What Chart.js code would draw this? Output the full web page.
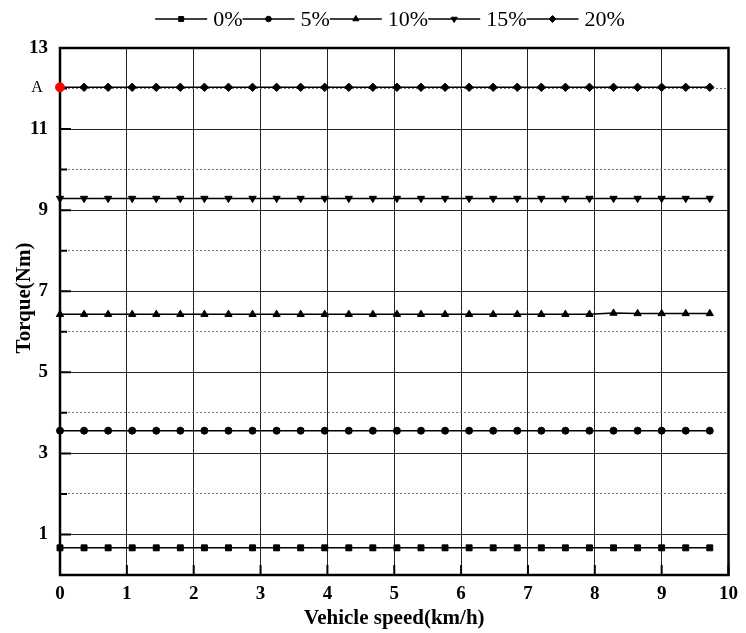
<!DOCTYPE html>
<html>
<head>
<meta charset="utf-8">
<script src="https://cdn.jsdelivr.net/npm/chart.js@4.4.1/dist/chart.umd.min.js"></script>
<style>
  body { margin: 0; background: #fff; }
  #wrap { width: 746px; height: 633px; }
</style>
</head>
<body>
<div id="wrap"><canvas id="myChart" width="746" height="633"></canvas></div>
<script>
// vehicle speed (km/h) of every sample
const speed = [0, 0.36, 0.72, 1.08, 1.44, 1.80, 2.16, 2.52, 2.88, 3.24, 3.60, 3.96, 4.32, 4.68,
               5.04, 5.40, 5.76, 6.12, 6.48, 6.84, 7.20, 7.56, 7.92, 8.28, 8.64, 9.00, 9.36, 9.72];

// torque (Nm) per slope
const torque0  = [0.67, 0.67, 0.67, 0.67, 0.67, 0.67, 0.67, 0.67, 0.67, 0.67, 0.67, 0.67, 0.67, 0.67,
                  0.67, 0.67, 0.67, 0.67, 0.67, 0.67, 0.67, 0.67, 0.67, 0.67, 0.67, 0.67, 0.67, 0.67];
const torque5  = [3.56, 3.56, 3.56, 3.56, 3.56, 3.56, 3.56, 3.56, 3.56, 3.56, 3.56, 3.56, 3.56, 3.56,
                  3.56, 3.56, 3.56, 3.56, 3.56, 3.56, 3.56, 3.56, 3.56, 3.56, 3.56, 3.56, 3.56, 3.56];
const torque10 = [6.43, 6.43, 6.43, 6.43, 6.43, 6.43, 6.43, 6.43, 6.43, 6.43, 6.43, 6.43, 6.43, 6.43,
                  6.43, 6.43, 6.43, 6.43, 6.43, 6.43, 6.43, 6.43, 6.43, 6.46, 6.45, 6.45, 6.45, 6.45];
const torque15 = [9.29, 9.29, 9.29, 9.29, 9.29, 9.29, 9.29, 9.29, 9.29, 9.29, 9.29, 9.29, 9.29, 9.29,
                  9.29, 9.29, 9.29, 9.29, 9.29, 9.29, 9.29, 9.29, 9.29, 9.29, 9.29, 9.29, 9.29, 9.29];
const torque20 = [12.03, 12.03, 12.03, 12.03, 12.03, 12.03, 12.03, 12.03, 12.03, 12.03, 12.03, 12.03, 12.03, 12.03,
                  12.03, 12.03, 12.03, 12.03, 12.03, 12.03, 12.03, 12.03, 12.03, 12.03, 12.03, 12.03, 12.03, 12.03];

const seriesNames = ['0%', '5%', '10%', '15%', '20%'];
const seriesValues = [torque0, torque5, torque10, torque15, torque20];
const markerStyles = ['rect', 'circle', 'triangle', 'triangle', 'rectRot'];
const markerRotations = [0, 0, 0, 180, 0];
const markerRadius = [4.2, 3.5, 4.2, 4.2, 4.2];

// axis ticks
const xTicks = [0, 1, 2, 3, 4, 5, 6, 7, 8, 9, 10];
const yTicks = [1, 3, 5, 7, 9, 11, 13];
const yMinorTicks = [2, 4, 6, 8, 10, 12];

// marked operating point
const pointA = { series: 4, index: 0, label: 'A' };

const serif = '"Liberation Serif", "Times New Roman", serif';

const datasets = seriesNames.map((name, s) => ({
  label: name,
  data: speed.map((v, i) => ({ x: v, y: seriesValues[s][i] })),
  borderColor: '#000',
  borderWidth: 1.5,
  pointStyle: c => (s === pointA.series && c.dataIndex === pointA.index) ? 'circle' : markerStyles[s],
  pointRotation: markerRotations[s],
  pointRadius: c => (s === pointA.series && c.dataIndex === pointA.index) ? 4.5 : markerRadius[s],
  pointBackgroundColor: c => (s === pointA.series && c.dataIndex === pointA.index) ? '#ff0000' : '#000',
  pointBorderColor: c => (s === pointA.series && c.dataIndex === pointA.index) ? '#ff0000' : '#000',
  pointBorderWidth: 1,
  clip: false
}));

const whiteBg = {
  id: 'whiteBg',
  beforeDraw(chart) {
    const ctx = chart.ctx;
    ctx.save();
    ctx.fillStyle = '#fff';
    ctx.fillRect(0, 0, chart.width, chart.height);
    ctx.restore();
  }
};

// frame and inward tick marks
const frameTicks = {
  id: 'frameTicks',
  beforeDatasetsDraw(chart) {
    const { ctx, chartArea: a, scales: { x, y } } = chart;
    ctx.save();
    ctx.strokeStyle = '#000';
    ctx.lineWidth = 2;
    ctx.beginPath();
    yTicks.forEach(v => {
      const py = y.getPixelForValue(v);
      ctx.moveTo(a.left, py); ctx.lineTo(a.left + 11, py);
    });
    yMinorTicks.forEach(v => {
      const py = y.getPixelForValue(v);
      ctx.moveTo(a.left, py); ctx.lineTo(a.left + 7, py);
    });
    xTicks.forEach(v => {
      const px = x.getPixelForValue(v);
      ctx.moveTo(px, a.bottom); ctx.lineTo(px, a.bottom - 10);
    });
    ctx.stroke();
    ctx.lineWidth = 2.5;
    ctx.strokeRect(a.left, a.top, a.right - a.left, a.bottom - a.top);
    ctx.restore();
  }
};

// legend with line + marker, y title and the "A" label
const extras = {
  id: 'extras',
  afterDraw(chart) {
    const ctx = chart.ctx;
    ctx.save();
    ctx.fillStyle = '#000';
    ctx.strokeStyle = '#000';

    ctx.font = '22px ' + serif;
    ctx.textBaseline = 'middle';
    const lineLen = 52, gap = 6, yc = 19;
    let total = 0;
    seriesNames.forEach(n => { total += lineLen + gap + ctx.measureText(n).width; });
    let lx = 390 - total / 2;
    seriesNames.forEach((n, s) => {
      ctx.lineWidth = 1.5;
      ctx.beginPath();
      ctx.moveTo(lx, yc); ctx.lineTo(lx + lineLen, yc);
      ctx.stroke();
      ctx.lineWidth = 1;
      if (Chart.helpers && Chart.helpers.drawPoint) {
        Chart.helpers.drawPoint(ctx, { pointStyle: markerStyles[s], rotation: markerRotations[s], radius: markerRadius[s] - 0.7, borderWidth: 1 }, lx + lineLen / 2, yc);
      }
      ctx.fillText(n, lx + lineLen + gap, yc + 1);
      lx += lineLen + gap + ctx.measureText(n).width;
    });

    ctx.font = 'bold 21px ' + serif;
    ctx.textAlign = 'center';
    ctx.translate(25, 298);
    ctx.rotate(-Math.PI / 2);
    ctx.fillText('Torque(Nm)', 0, 0);
    ctx.setTransform(1, 0, 0, 1, 0, 0);

    const pt = chart.getDatasetMeta(pointA.series).data[pointA.index];
    ctx.font = '16px ' + serif;
    ctx.fillText(pointA.label, pt.x - 23, pt.y);
    ctx.restore();
  }
};

new Chart(document.getElementById('myChart'), {
  type: 'line',
  data: { datasets },
  options: {
    responsive: false,
    animation: false,
    devicePixelRatio: 1,
    layout: { padding: { top: 48, right: 14, bottom: 0, left: 0 } },
    plugins: { legend: { display: false }, tooltip: { enabled: false } },
    scales: {
      x: {
        type: 'linear',
        min: 0, max: 10,
        afterBuildTicks: s => { s.ticks = xTicks.map(v => ({ value: v })); },
        afterFit: s => { s.height = 58; },
        grid: { color: '#222', lineWidth: 1, drawTicks: false },
        border: { display: false },
        ticks: { color: '#000', padding: 8, maxRotation: 0, font: { family: serif, size: 19, weight: 'bold' } },
        title: { display: true, text: 'Vehicle speed(km/h)', color: '#000', padding: { top: 0, bottom: 2 },
                 font: { family: serif, size: 21, weight: 'bold' } }
      },
      y: {
        position: 'left',
        min: 0, max: 13,
        afterBuildTicks: s => { s.ticks = yTicks.map(v => ({ value: v })); },
        afterFit: s => { s.width = 60; },
        grid: { color: '#222', lineWidth: 1, drawTicks: false },
        border: { display: false },
        ticks: { color: '#000', padding: 12, font: { family: serif, size: 19, weight: 'bold' } }
      },
      y2: {
        position: 'right',
        min: 0, max: 13,
        afterBuildTicks: s => { s.ticks = yMinorTicks.map(v => ({ value: v })); },
        afterFit: s => { s.width = 0; },
        grid: { color: '#777', lineWidth: 1, drawTicks: false },
        border: { display: false, dash: [2, 2] },
        ticks: { display: false }
      }
    }
  },
  plugins: [whiteBg, frameTicks, extras]
});
</script>
</body>
</html>
